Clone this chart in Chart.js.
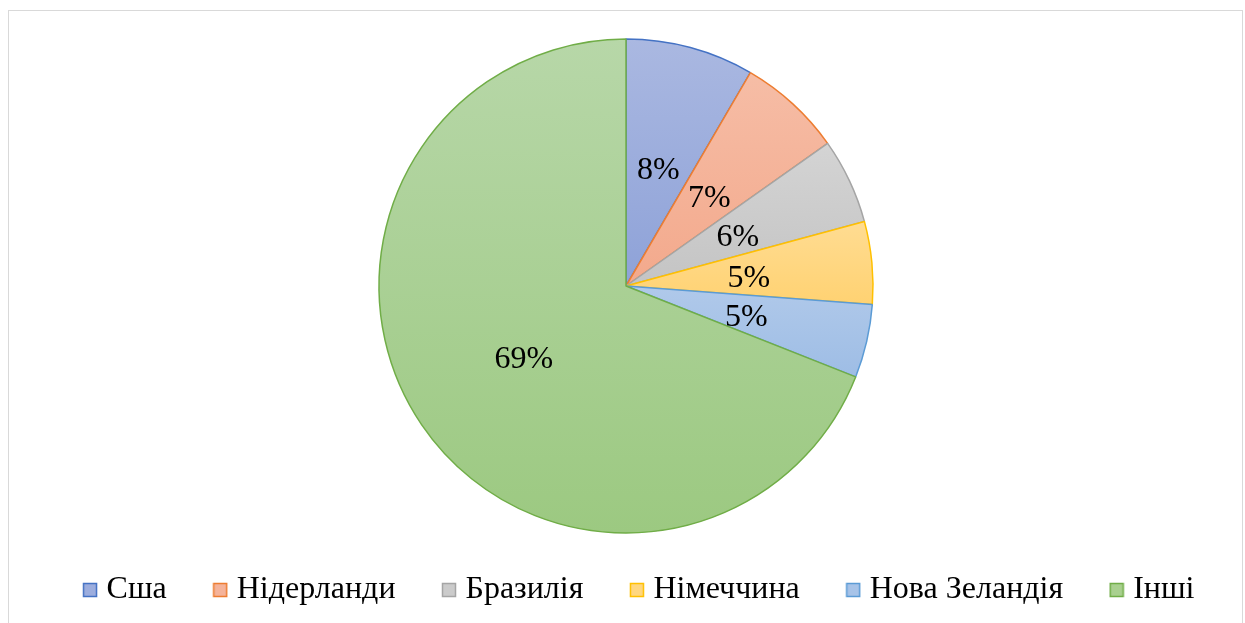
<!DOCTYPE html>
<html>
<head>
<meta charset="utf-8">
<script src="https://cdn.jsdelivr.net/npm/chart.js@4.4.1/dist/chart.umd.min.js"></script>
<style>
  html, body { margin: 0; padding: 0; background: #ffffff; overflow: hidden; }
  #wrap { position: relative; width: 1245px; height: 623px; }
  #frame { position: absolute; left: 8px; top: 10px; width: 1233px; height: 640px; border: 1px solid #d9d9d9; pointer-events: none; }
  canvas { position: absolute; left: 0; top: 0; }
</style>
</head>
<body>
<div id="wrap">
  <canvas id="c" width="1245" height="623"></canvas>
  <div id="frame"></div>
</div>
<script>
const categories = ['Сша', 'Нідерланди', 'Бразилія', 'Німеччина', 'Нова Зеландія', 'Інші'];
const shares = [8.4, 6.8, 5.6, 5.4, 4.8, 69.0];
const topColors = ['#aab8e1', '#f6bda6', '#d4d4d4', '#ffdc92', '#b0c9ea', '#b7d7a8'];
const bottomColors = ['#8ea2d8', '#f3a98c', '#c4c4c4', '#ffd272', '#9ebde5', '#9cc981'];
const legendFills = ['#9cadde', '#f5b39a', '#cbcbcb', '#ffd780', '#a7c3e8', '#a9d08f'];
const borderColors = ['#4472c4', '#ed7d31', '#a5a5a5', '#ffc000', '#5b9bd5', '#70ad47'];

const FONT = '"Liberation Serif", "Times New Roman", serif';

function sliceGradient(context) {
  const chart = context.chart;
  const area = chart.chartArea;
  const i = context.dataIndex;
  if (!area || i === undefined) return topColors[i] || '#ccc';
  const cx = (area.left + area.right) / 2;
  const cy = (area.top + area.bottom) / 2;
  const R = 247;
  const total = shares.reduce((a, b) => a + b, 0);
  let cum = 0;
  for (let k = 0; k < i; k++) cum += shares[k];
  const a0 = -Math.PI / 2 + cum / total * 2 * Math.PI;
  const a1 = a0 + shares[i] / total * 2 * Math.PI;
  const ys = [cy, cy + R * Math.sin(a0), cy + R * Math.sin(a1)];
  const inRange = (a) => {
    let t = a;
    while (t < a0 - 1e-9) t += 2 * Math.PI;
    return t <= a1 + 1e-9;
  };
  if (inRange(Math.PI / 2)) ys.push(cy + R);
  if (inRange(-Math.PI / 2)) ys.push(cy - R);
  const yMin = Math.min(...ys), yMax = Math.max(...ys);
  const g = chart.ctx.createLinearGradient(0, yMin, 0, Math.max(yMax, yMin + 1));
  g.addColorStop(0, topColors[i]);
  g.addColorStop(1, bottomColors[i]);
  return g;
}

function legendMarker(fill, stroke) {
  const cv = document.createElement('canvas');
  cv.width = 16; cv.height = 16;
  const c = cv.getContext('2d');
  c.fillStyle = fill;
  c.fillRect(1.5, 1.5, 13, 13);
  c.strokeStyle = stroke;
  c.lineWidth = 1.5;
  c.strokeRect(1.5, 1.5, 13, 13);
  return cv;
}
const markers = categories.map((c, i) => legendMarker(legendFills[i], borderColors[i]));

const pctLabels = {
  id: 'pctLabels',
  afterDatasetsDraw(chart) {
    const ctx = chart.ctx;
    const meta = chart.getDatasetMeta(0);
    const total = shares.reduce((a, b) => a + b, 0);
    ctx.save();
    ctx.font = '32px ' + FONT;
    ctx.fillStyle = '#000000';
    ctx.textAlign = 'center';
    ctx.textBaseline = 'middle';
    meta.data.forEach((arc, i) => {
      const p = arc.tooltipPosition();
      ctx.fillText(Math.round(shares[i] / total * 100) + '%', p.x, p.y + 4);
    });
    ctx.restore();
  }
};

const legendShift = {
  id: 'legendShift',
  afterLayout(chart) {
    if (chart.legend) {
      chart.legend.left += 16;
      chart.legend.right += 16;
    }
  }
};

new Chart(document.getElementById('c'), {
  type: 'pie',
  data: {
    labels: categories,
    datasets: [{
      data: shares,
      backgroundColor: sliceGradient,
      borderColor: borderColors,
      borderWidth: 1.5,
      radius: 247
    }]
  },
  options: {
    responsive: false,
    animation: false,
    layout: { padding: { left: 7, right: 0, top: 51, bottom: 7 } },
    plugins: {
      tooltip: { enabled: false },
      legend: {
        position: 'bottom',
        labels: {
          font: { family: FONT, size: 32 },
          color: '#000000',
          usePointStyle: true,
          boxWidth: 1,
          boxHeight: 14,
          padding: 53,
          generateLabels(chart) {
            return categories.map((c, i) => ({
              text: c,
              fillStyle: legendFills[i],
              strokeStyle: borderColors[i],
              lineWidth: 0,
              pointStyle: markers[i],
              hidden: false,
              index: i
            }));
          }
        }
      }
    }
  },
  plugins: [pctLabels, legendShift]
});
</script>
</body>
</html>
